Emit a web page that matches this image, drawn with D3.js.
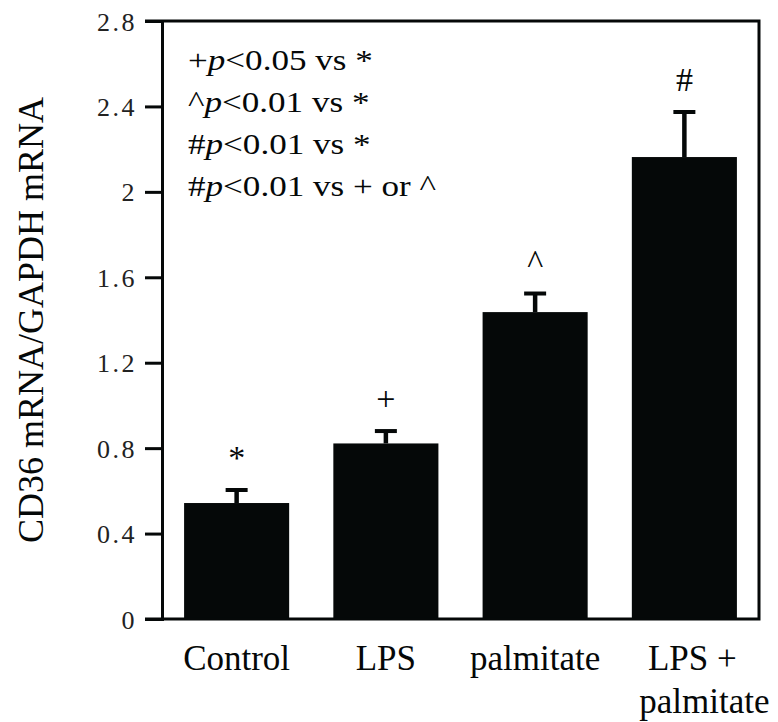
<!DOCTYPE html>
<html>
<head>
<meta charset="utf-8">
<script src="https://cdn.jsdelivr.net/npm/d3@7"></script>
<style>
  html, body { margin: 0; padding: 0; background: #fff; }
  svg { display: block; }
  svg text { font-family: "Liberation Serif", "Times New Roman", Times, serif; }
</style>
</head>
<body>
<div id="chart"></div>
<script>
// values
const categories = ["Control", "LPS", "palmitate", "LPS + palmitate"];
const categoryLines = [["Control"], ["LPS"], ["palmitate"], ["LPS +", "palmitate"]];
const means = [0.543, 0.822, 1.437, 2.163];
const errors = [0.061, 0.058, 0.087, 0.211];
const marks = ["*", "+", "^", "#"];
const yTicks = [0, 0.4, 0.8, 1.2, 1.6, 2, 2.4, 2.8];
const yTickLabels = ["0", "0.4", "0.8", "1.2", "1.6", "2", "2.4", "2.8"];
const legendPrefix = ["+", "^", "#", "#"];
const legendRest = ["<0.05 vs *", "<0.01 vs *", "<0.01 vs *", "<0.01 vs + or ^"];
const yTitle = "CD36 mRNA/GAPDH mRNA";

const W = 778, H = 722;
const margin = {top: 21, right: 19, bottom: 103, left: 162};

const svg = d3.select("#chart").append("svg")
    .attr("width", W)
    .attr("height", H);

const x = d3.scaleBand()
    .domain(categories)
    .range([margin.left, W - margin.right])
    .paddingInner(0.296)
    .paddingOuter(0.148);

const y = d3.scaleLinear()
    .domain([0, 2.8])
    .range([H - margin.bottom, margin.top]);

const ink = "#050808";

// bars
svg.selectAll("rect.bar")
    .data(means)
    .enter()
    .append("rect")
    .attr("class", "bar")
    .attr("x", (d, i) => x(categories[i]))
    .attr("y", d => y(d))
    .attr("width", x.bandwidth())
    .attr("height", d => y(0) - y(d))
    .attr("fill", ink);

// error bars (upper only)
const eb = svg.selectAll("g.err")
    .data(means)
    .enter()
    .append("g")
    .attr("class", "err");

eb.append("line")
    .attr("x1", (d, i) => x(categories[i]) + x.bandwidth() / 2)
    .attr("x2", (d, i) => x(categories[i]) + x.bandwidth() / 2)
    .attr("y1", d => y(d))
    .attr("y2", (d, i) => y(d + errors[i]))
    .attr("stroke", ink)
    .attr("stroke-width", 4.5);

eb.append("line")
    .attr("x1", (d, i) => x(categories[i]) + x.bandwidth() / 2 - 11)
    .attr("x2", (d, i) => x(categories[i]) + x.bandwidth() / 2 + 11)
    .attr("y1", (d, i) => y(d + errors[i]))
    .attr("y2", (d, i) => y(d + errors[i]))
    .attr("stroke", ink)
    .attr("stroke-width", 4);

// significance marks
svg.selectAll("text.mark")
    .data(marks)
    .enter()
    .append("text")
    .attr("class", "mark")
    .attr("x", (d, i) => x(categories[i]) + x.bandwidth() / 2)
    .attr("y", (d, i) => y(means[i] + errors[i]) - 21)
    .attr("text-anchor", "middle")
    .attr("font-size", "34px")
    .attr("fill", ink)
    .text(d => d);

// y axis
const yAxis = svg.append("g")
    .attr("transform", `translate(${margin.left},0)`)
    .call(d3.axisLeft(y)
        .tickValues(yTicks)
        .tickFormat((d, i) => yTickLabels[i])
        .tickSize(17)
        .tickPadding(8));

yAxis.attr("font-family", null).attr("font-size", null);
yAxis.select(".domain")
    .attr("stroke", ink)
    .attr("stroke-width", 3);
yAxis.selectAll(".tick line")
    .attr("stroke", ink)
    .attr("stroke-width", 3);
yAxis.selectAll(".tick text")
    .attr("font-size", "26px")
    .attr("letter-spacing", "2.5px")
    .attr("fill", "#222")
    .attr("dy", "0.35em");

// frame: top, right, bottom
svg.append("path")
    .attr("fill", "none")
    .attr("stroke", ink)
    .attr("stroke-width", 3)
    .attr("d", d3.line()([
        [margin.left - 17, y(2.8)],
        [W - margin.right, y(2.8)],
        [W - margin.right, y(0)],
        [margin.left - 17, y(0)]
    ]));

// category labels
const catLabels = svg.selectAll("text.cat")
    .data(categoryLines)
    .enter()
    .append("text")
    .attr("class", "cat")
    .attr("text-anchor", "middle")
    .attr("font-size", "35px")
    .attr("fill", ink);

catLabels.each(function(lines, i) {
    const cx = x(categories[i]) + x.bandwidth() / 2;
    const multi = lines.length > 1;
    d3.select(this).selectAll("tspan")
        .data(lines)
        .enter()
        .append("tspan")
        .attr("x", (l, j) => multi ? cx + (j === 0 ? 8 : 20) : cx)
        .attr("y", (l, j) => y(0) + 51 + j * 43)
        .text(l => l);
});

// legend
const legend = svg.selectAll("text.legend")
    .data(legendRest)
    .enter()
    .append("text")
    .attr("class", "legend")
    .attr("transform", (d, i) => `translate(188, ${70 + i * 42}) scale(1.17, 1)`)
    .attr("font-size", "30px")
    .attr("fill", ink);

legend.append("tspan").text((d, i) => legendPrefix[i]);
legend.append("tspan").attr("font-style", "italic").text("p");
legend.append("tspan").text(d => d);

// y title
svg.append("text")
    .attr("transform", `translate(43, ${(y(0) + y(2.8)) / 2}) rotate(-90)`)
    .attr("text-anchor", "middle")
    .attr("font-size", "36px")
    .attr("fill", ink)
    .text(yTitle);
</script>
</body>
</html>
